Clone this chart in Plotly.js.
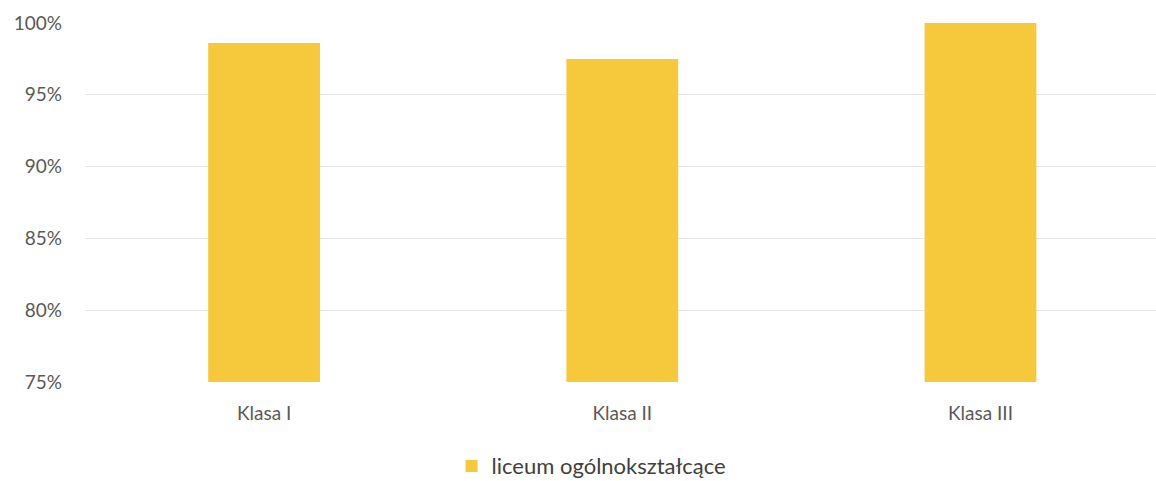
<!DOCTYPE html>
<html>
<head>
<meta charset="utf-8">
<script src="https://cdn.plot.ly/plotly-3.0.1.min.js"></script>
<style>html,body{margin:0;padding:0;background:#fff;overflow:hidden}#chart{width:1156px;height:481px}</style>
</head>
<body>
<div id="chart"></div>
<script>
const categories = ['Klasa I', 'Klasa II', 'Klasa III'];
const seriesName = 'liceum ogólnokształcące';
const values = [98.6, 97.5, 100];
const tickVals = [75, 80, 85, 90, 95, 100];
const tickText = ['75%', '80%', '85%', '90%', '95%', '100%'];

const fam = 'Lato, "Open Sans", sans-serif';

Plotly.newPlot('chart', [{
  type: 'bar',
  x: categories,
  y: values,
  name: seriesName,
  marker: {color: '#F6C83C'},
  hoverinfo: 'skip'
}], {
  width: 1156, height: 481,
  margin: {l: 85, r: 0, t: 23, b: 99},
  paper_bgcolor: '#fff', plot_bgcolor: '#fff',
  font: {family: fam, size: 17, color: '#595959'},
  bargap: 0.688,
  showlegend: true,
  legend: {orientation: 'h', x: 0.473, xanchor: 'center', yref: 'container', y: 0.031, yanchor: 'middle', itemwidth: 30, font: {family: fam, size: 22, color: '#404040'}},
  xaxis: {range: [-0.5, 2.49], showgrid: false, zeroline: false, showline: false, ticks: '', ticklabelstandoff: 18, tickfont: {size: 19, color: '#595959'}},
  yaxis: {range: [75, 100], tickvals: tickVals, ticktext: tickText, showgrid: true, gridcolor: '#e6e6e6', gridwidth: 1, zeroline: false, showline: false, ticks: '', ticklabelstandoff: 22, tickfont: {size: 19, color: '#595959'}}
}, {displayModeBar: false, staticPlot: true});
</script>
</body>
</html>
